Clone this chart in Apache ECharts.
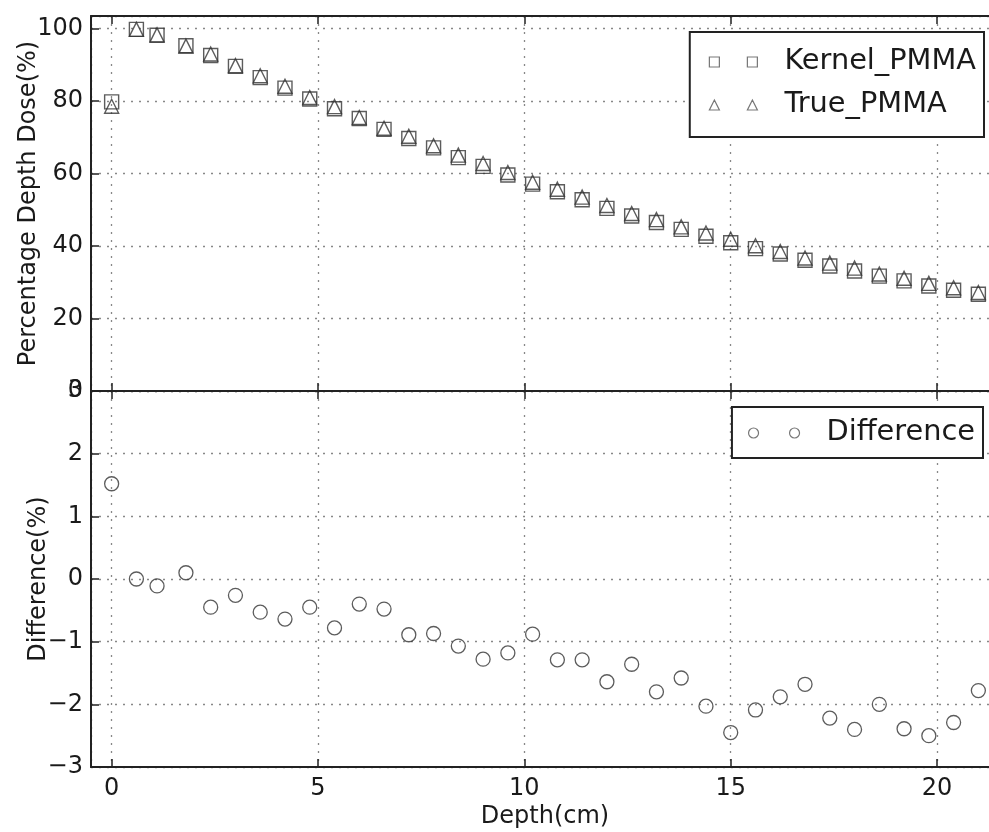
<!DOCTYPE html>
<html lang="en">
<head>
    <meta charset="UTF-8">
    <title>PMMA depth dose</title>
    <style>
        html, body { margin: 0; padding: 0; background: #fff; }
        #main { width: 989px; height: 832px; }
    </style>
</head>
<body>
    <div id="main"></div>
    <script src="https://cdn.jsdelivr.net/npm/echarts@6/dist/echarts.min.js"></script>
    <script>
        // depth in cm
        var depth = [0, 0.6, 1.1, 1.8, 2.4, 3.0, 3.6, 4.2, 4.8, 5.4, 6.0, 6.6, 7.2, 7.8, 8.4, 9.0, 9.6, 10.2,
            10.8, 11.4, 12.0, 12.6, 13.2, 13.8, 14.4, 15.0, 15.6, 16.2, 16.8, 17.4, 18.0, 18.6, 19.2, 19.8, 20.4, 21.0];
        var kernelPmma = [79.8, 99.8, 98.2, 95.3, 92.6, 89.6, 86.5, 83.6, 80.6, 77.9, 75.2, 72.2, 69.7, 67.1, 64.4, 62.0, 59.6, 57.1,
            55.0, 52.8, 50.4, 48.3, 46.5, 44.6, 42.7, 40.9, 39.3, 37.8, 36.1, 34.5, 33.1, 31.7, 30.4, 29.0, 27.8, 26.7];
        var truePmma = [78.6, 99.8, 98.3, 95.2, 93.0, 89.8, 87.0, 84.1, 81.0, 78.5, 75.5, 72.5, 70.3, 67.7, 65.1, 62.8, 60.3, 57.6,
            55.7, 53.5, 51.2, 49.0, 47.3, 45.3, 43.6, 41.9, 40.1, 38.5, 36.7, 35.3, 33.9, 32.3, 31.1, 29.7, 28.5, 27.2];
        var difference = [1.52, 0.0, -0.11, 0.10, -0.45, -0.26, -0.53, -0.64, -0.45, -0.78, -0.40, -0.48, -0.89, -0.87, -1.07, -1.28, -1.18, -0.88,
            -1.29, -1.29, -1.64, -1.36, -1.80, -1.58, -2.03, -2.45, -2.09, -1.88, -1.68, -2.22, -2.40, -2.00, -2.39, -2.50, -2.29, -1.78];

        function pairs(xs, ys) {
            return xs.map(function (x, i) { return [x, ys[i]]; });
        }

        var FONT = 'DejaVu Sans';
        var INK = '#1a1a1a';
        var MARK = '#333';

        var gridLine = { show: true, lineStyle: { color: '#888', width: 1.3, type: [2, 6] } };
        var spine = { show: true, onZero: false, lineStyle: { color: '#222', width: 2 } };
        var tick = { show: true, inside: true, length: 8, lineStyle: { color: '#222', width: 1.5 } };
        var legendMark = { color: 'transparent', borderColor: '#555', borderWidth: 1.2 };

        function xAx(grid, pos, extra) {
            var a = {
                type: 'value', gridIndex: grid, position: pos, min: -0.5, max: 21.5,
                axisLine: spine, axisTick: tick, splitLine: { show: false },
                axisLabel: { show: false }
            };
            for (var k in extra) a[k] = extra[k];
            return a;
        }

        var myChart = echarts.init(document.getElementById('main'));
        var option = {
            animation: false,
            textStyle: { fontFamily: FONT },
            grid: [
                { left: 91, right: -10, top: 16, height: 375, containLabel: false, outerBoundsMode: 'none' },
                { left: 91, right: -10, top: 391, height: 376, containLabel: false, outerBoundsMode: 'none' }
            ],
            xAxis: [
                xAx(0, 'bottom', { splitLine: gridLine }),
                xAx(0, 'top', {}),
                xAx(1, 'bottom', {
                    splitLine: gridLine,
                    name: 'Depth(cm)', nameLocation: 'middle', nameGap: 38,
                    nameTextStyle: { fontFamily: FONT, fontSize: 24, color: INK },
                    axisLabel: {
                        show: true, showMinLabel: false, showMaxLabel: false, margin: 10,
                        fontFamily: FONT, fontSize: 24, color: INK
                    }
                }),
                xAx(1, 'top', {})
            ],
            yAxis: [
                {
                    type: 'value', gridIndex: 0, min: 0, max: 103.5, interval: 20,
                    axisLine: spine, axisTick: tick, splitLine: gridLine,
                    name: 'Percentage Depth Dose(%)', nameLocation: 'middle', nameGap: 50, nameMoveOverlap: false,
                    nameTextStyle: { fontFamily: FONT, fontSize: 24, color: INK },
                    axisLabel: { showMaxLabel: false, margin: 8, fontFamily: FONT, fontSize: 24, color: INK }
                },
                {
                    type: 'value', gridIndex: 1, min: -3, max: 3, interval: 1,
                    axisLine: spine, axisTick: tick, splitLine: gridLine,
                    name: 'Difference(%)', nameLocation: 'middle', nameGap: 40, nameMoveOverlap: false,
                    nameTextStyle: { fontFamily: FONT, fontSize: 24, color: INK },
                    axisLabel: {
                        margin: 8, fontFamily: FONT, fontSize: 24, color: INK,
                        formatter: function (v) { return String(v).replace('-', '\u2212'); }
                    }
                }
            ],
            legend: [
                {
                    orient: 'vertical', right: 5, top: 32,
                    padding: [14, 8, 16, 19], itemGap: 11,
                    itemWidth: 48, itemHeight: 10,
                    borderColor: '#222', borderWidth: 2, borderRadius: 0, backgroundColor: '#fff',
                    selectedMode: false,
                    itemStyle: legendMark,
                    textStyle: { fontFamily: FONT, fontSize: 28.8, lineHeight: 32, color: INK, padding: [0, 0, 0, 22] },
                    data: [
                        { name: 'Kernel_PMMA', icon: 'path://M0,0H10V10H0Z M38,0H48V10H38Z' },
                        { name: 'True_PMMA', icon: 'path://M5,0L10,10H0Z M43,0L48,10H38Z' }
                    ]
                },
                {
                    orient: 'vertical', right: 6, top: 407,
                    padding: [10, 8, 9, 16],
                    itemWidth: 51, itemHeight: 10,
                    borderColor: '#222', borderWidth: 2, borderRadius: 0, backgroundColor: '#fff',
                    selectedMode: false,
                    itemStyle: legendMark,
                    textStyle: { fontFamily: FONT, fontSize: 28.8, lineHeight: 32, color: INK, padding: [0, 0, 0, 22] },
                    data: [
                        { name: 'Difference', icon: 'path://M0,5a5,5 0 1,0 10,0a5,5 0 1,0 -10,0Z M41,5a5,5 0 1,0 10,0a5,5 0 1,0 -10,0Z' }
                    ]
                }
            ],
            series: [
                {
                    name: 'Kernel_PMMA', type: 'scatter', xAxisIndex: 0, yAxisIndex: 0,
                    symbol: 'rect', symbolSize: 14,
                    itemStyle: { color: 'transparent', borderColor: MARK, borderWidth: 1.4 },
                    data: pairs(depth, kernelPmma)
                },
                {
                    name: 'True_PMMA', type: 'scatter', xAxisIndex: 0, yAxisIndex: 0,
                    symbol: 'triangle', symbolSize: 14,
                    itemStyle: { color: 'transparent', borderColor: MARK, borderWidth: 1.4 },
                    data: pairs(depth, truePmma)
                },
                {
                    name: 'Difference', type: 'scatter', xAxisIndex: 2, yAxisIndex: 1,
                    symbol: 'circle', symbolSize: 14,
                    itemStyle: { color: 'transparent', borderColor: MARK, borderWidth: 1.3 },
                    data: pairs(depth, difference)
                }
            ]
        };
        myChart.setOption(option);
    </script>
</body>
</html>
